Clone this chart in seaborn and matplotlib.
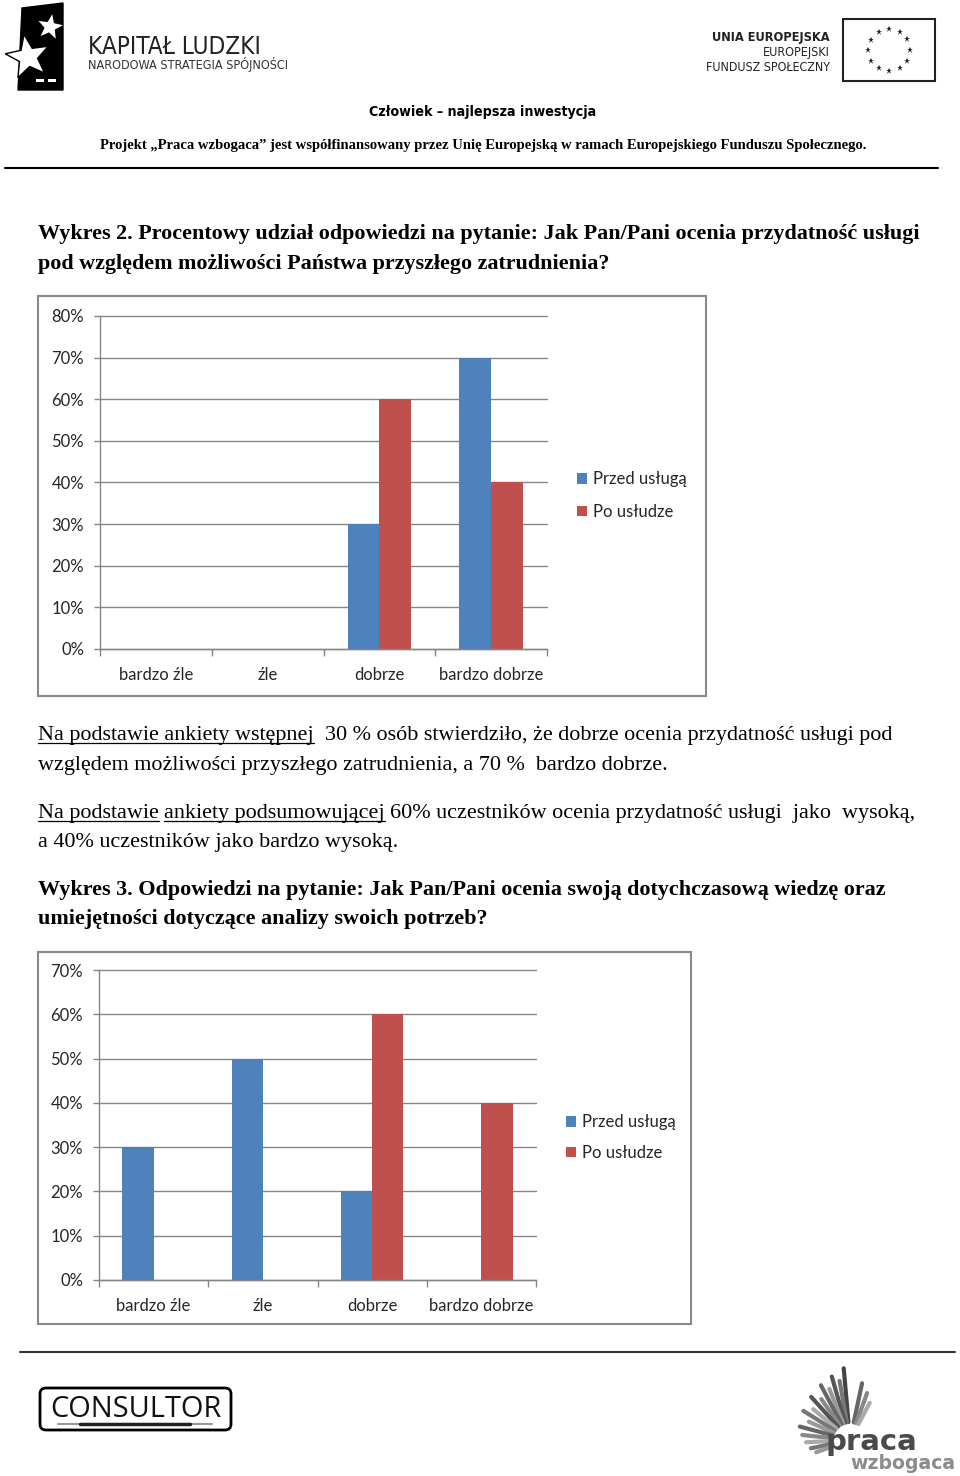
import matplotlib
matplotlib.use("Agg")
import numpy as np
import pandas as pd
import seaborn as sns
import matplotlib.pyplot as plt
from matplotlib.patches import Rectangle, FancyBboxPatch, Polygon
from matplotlib import font_manager as fm

# ---------------- data ----------------
categories = ["bardzo źle", "źle", "dobrze", "bardzo dobrze"]
series_names = ["Przed usługą", "Po usłudze"]
wykres2_przed = [0.00, 0.00, 0.30, 0.70]
wykres2_po = [0.00, 0.00, 0.60, 0.40]
wykres3_przed = [0.30, 0.50, 0.20, 0.00]
wykres3_po = [0.00, 0.00, 0.60, 0.40]
wykres2_yticks = [0.0, 0.1, 0.2, 0.3, 0.4, 0.5, 0.6, 0.7, 0.8]
wykres3_yticks = [0.0, 0.1, 0.2, 0.3, 0.4, 0.5, 0.6, 0.7]

BLUE = "#4F81BD"
RED = "#C0504D"
GRID = "#868686"
TXT = "#262626"
FS = 12

sns.set_theme(style="white")
plt.rcParams["font.family"] = ["Lato", "DejaVu Sans"]

W, H = 960, 1476
fig = plt.figure(figsize=(W / 100, H / 100), dpi=100)
fig.patch.set_facecolor("white")
page = fig.add_axes([0, 0, 1, 1], zorder=0)
page.set_xlim(0, W)
page.set_ylim(H, 0)
page.axis("off")
renderer = fig.canvas.get_renderer()

SERIF = ["Liberation Serif", "DejaVu Serif"]


def find_narrow(bold):
    cands = []
    for f in fm.fontManager.ttflist:
        nm = f.name.lower()
        narrow = ("narrow" in nm or "condensed" in nm
                  or str(f.stretch).lower() in ("condensed", "semi-condensed", "extra-condensed"))
        if not narrow or f.style != "normal":
            continue
        w = f.weight if isinstance(f.weight, (int, float)) else (700 if "bold" in str(f.weight) else 400)
        if bold != (w >= 600):
            continue
        cands.append(f.fname)
    cands.sort()
    return cands[0] if cands else None


NARROW_REG = find_narrow(False)
NARROW_BOLD = find_narrow(True)


def fprops(family, weight, size):
    if family == "NARROW":
        path = NARROW_BOLD if weight == "bold" else NARROW_REG
        if path is not None:
            return fm.FontProperties(fname=path, size=size)
        return fm.FontProperties(family=["Liberation Sans", "DejaVu Sans"],
                                 weight=weight, size=size)
    return fm.FontProperties(family=family, weight=weight, size=size)


def measure(s, size, family, weight="normal"):
    t = page.text(0, 0, s, fontproperties=fprops(family, weight, size))
    w = t.get_window_extent(renderer).width
    t.remove()
    return w


def put(x, y, s, size, family, weight="normal", ha="left", va="baseline",
        color="black", target=None):
    if target is not None:
        size = size * target / measure(s, size, family, weight)
    page.text(x, y, s, fontproperties=fprops(family, weight, size),
              ha=ha, va=va, color=color)
    return size


def run_line(x, y, parts, size, family, weight="normal", color="black"):
    sp = measure("n n", size, family, weight) - measure("nn", size, family, weight)
    cx = x
    for s, ul, nsp in parts:
        cx += nsp * sp
        w = measure(s, size, family, weight)
        page.text(cx, y, s, fontproperties=fprops(family, weight, size),
                  ha="left", va="baseline", color=color)
        if ul:
            page.plot([cx, cx + w], [y + 3, y + 3], color=color, lw=0.9)
        cx += w


def star_pts(cx, cy, r, inner=0.42, rot=-90):
    pts = []
    for i in range(10):
        rr = r if i % 2 == 0 else r * inner
        a = np.deg2rad(rot + i * 36)
        pts.append((cx + rr * np.cos(a), cy + rr * np.sin(a)))
    return pts


# ---------------- header ----------------
page.add_patch(Polygon([(22, 8), (63, 3), (63, 90), (18, 90)], closed=True,
                       fc="black", ec="black"))
page.add_patch(Polygon(star_pts(28, 57, 23, rot=-100), closed=True, fc="white",
                       ec="black", lw=1))
page.add_patch(Polygon(star_pts(50, 27, 13, rot=-80), closed=True, fc="white",
                       ec="none"))
page.add_patch(Rectangle((36, 79), 8, 3, fc="white", ec="none"))
page.add_patch(Rectangle((48, 79), 8, 3, fc="white", ec="none"))
put(88, 54, "KAPITAŁ LUDZKI", 16, "NARROW", color="#222222", target=174)
put(88, 69, "NARODOWA STRATEGIA SPÓJNOŚCI", 8, "NARROW", color="#333333", target=200)

put(830, 41, "UNIA EUROPEJSKA", 9, "NARROW", weight="bold", ha="right", color="#222222", target=118)
put(830, 56, "EUROPEJSKI", 9, "NARROW", ha="right", color="#222222", target=67)
put(830, 71, "FUNDUSZ SPOŁECZNY", 9, "NARROW", ha="right", color="#222222", target=124)
page.add_patch(Rectangle((843, 19), 92, 62, fill=False, ec="#222222", lw=1.5))
for k in range(12):
    a = np.deg2rad(k * 30)
    page.plot(889 + 21 * np.cos(a), 50 + 21 * np.sin(a), marker="*", ms=5,
              color="#222222", mew=0)

put(483, 116, "Człowiek – najlepsza inwestycja", 10, "NARROW", weight="bold",
    ha="center", target=225)
put(483, 149, "Projekt „Praca wzbogaca” jest współfinansowany przez Unię "
    "Europejską w ramach Europejskiego Funduszu Społecznego.", 10, SERIF,
    weight="bold", ha="center", target=771)
page.plot([5, 938], [168, 168], color="black", lw=1.5)

# ---------------- body text ----------------
tsize = put(38, 239, "Wykres 2. Procentowy udział odpowiedzi na pytanie: Jak "
            "Pan/Pani ocenia przydatność usługi", 14, SERIF, weight="bold",
            target=884)
put(38, 269, "pod względem możliwości Państwa przyszłego zatrudnienia?", tsize,
    SERIF, weight="bold")

psize = 14 * 631 / measure("względem możliwości przyszłego zatrudnienia, a 70 %  "
                           "bardzo dobrze.", 14, SERIF)
run_line(38, 740, [("Na podstawie ankiety wstępnej", True, 0),
                   ("30 % osób stwierdziło, że dobrze ocenia przydatność usługi pod",
                    False, 2)], psize, SERIF)
put(38, 770, "względem możliwości przyszłego zatrudnienia, a 70 %  bardzo dobrze.",
    psize, SERIF)
run_line(38, 818, [("Na podstawie", True, 0), ("ankiety podsumowującej", True, 1),
                   ("60% uczestników ocenia przydatność usługi  jako  wysoką,",
                    False, 1)], psize, SERIF)
put(38, 847, "a 40% uczestników jako bardzo wysoką.", psize, SERIF)

put(38, 895, "Wykres 3. Odpowiedzi na pytanie: Jak Pan/Pani ocenia swoją "
    "dotychczasową wiedzę oraz", tsize, SERIF, weight="bold")
put(38, 924, "umiejętności dotyczące analizy swoich potrzeb?", tsize, SERIF,
    weight="bold")


# ---------------- charts ----------------
def chart(rect_px, box_px, przed, po, yticks, leg_x, leg_y, spacing):
    l, t, r, b = rect_px
    bl, bt, br, bb = box_px
    page.add_patch(Rectangle((bl, bt), br - bl, bb - bt, fill=False,
                             ec="#8a8a8a", lw=1.5))
    ax = fig.add_axes([l / W, 1 - b / H, (r - l) / W, (b - t) / H], zorder=2)
    df = pd.DataFrame({
        "kategoria": categories * 2,
        "seria": [series_names[0]] * len(categories) + [series_names[1]] * len(categories),
        "udzial": list(przed) + list(po),
    })
    sns.barplot(data=df, x="kategoria", y="udzial", hue="seria",
                order=categories, hue_order=series_names,
                palette=[BLUE, RED], saturation=1, width=0.57,
                errorbar=None, linewidth=0, ax=ax)
    ax.set_xlim(-0.5, len(categories) - 0.5)
    ax.set_ylim(0, yticks[-1])
    ax.set_yticks(yticks)
    ax.set_yticklabels([f"{int(round(v * 100))}%" for v in yticks])
    ax.set_xlabel("")
    ax.set_ylabel("")
    ax.set_axisbelow(True)
    ax.yaxis.grid(True, color=GRID, lw=1)
    ax.xaxis.grid(False)
    for gl in ax.get_ygridlines():
        gl.set_clip_on(False)
    for s in ["top", "right"]:
        ax.spines[s].set_visible(False)
    for s in ["left", "bottom"]:
        ax.spines[s].set_color(GRID)
        ax.spines[s].set_linewidth(1)
    ax.set_xticks([i - 0.5 for i in range(len(categories) + 1)], minor=True)
    ax.tick_params(axis="y", which="major", left=True, length=4.5, width=1,
                   color=GRID, direction="out", pad=7, labelsize=FS,
                   labelcolor=TXT)
    ax.tick_params(axis="x", which="major", bottom=True, length=0, pad=13,
                   labelsize=FS, labelcolor=TXT)
    ax.tick_params(axis="x", which="minor", bottom=True, length=5, width=1,
                   color=GRID, direction="out")
    leg = ax.get_legend()
    handles = leg.legend_handles
    labels = [tx.get_text() for tx in leg.get_texts()]
    leg.remove()
    ax.legend(handles, labels, loc="center left",
              bbox_to_anchor=(leg_x / W, 1 - leg_y / H),
              bbox_transform=fig.transFigure, frameon=False,
              fontsize=FS, handlelength=0.6, handleheight=0.6,
              handletextpad=0.35, labelspacing=spacing, borderpad=0,
              borderaxespad=0, labelcolor=TXT)
    return ax


chart((100, 316, 547, 649), (38, 296, 706, 696), wykres2_przed, wykres2_po,
      wykres2_yticks, 577, 495.5, 1.0)
chart((99, 970, 536, 1280), (38, 952, 691, 1324), wykres3_przed, wykres3_po,
      wykres3_yticks, 566, 1137.5, 0.88)

# ---------------- footer ----------------
page.plot([20, 955], [1352, 1352], color="#333333", lw=1.5)
page.add_patch(FancyBboxPatch((40, 1388), 191, 42,
                              boxstyle="round,pad=0,rounding_size=6",
                              fill=False, ec="black", lw=2))
put(136, 1417, "CONSULTOR", 20, ["Open Sans", "DejaVu Sans"], ha="center",
    color="#111111", target=171)
page.plot([58, 212], [1424, 1424], color="#999999", lw=1.5, solid_capstyle="round")
page.plot([80, 190], [1424, 1424], color="#222222", lw=2.5, solid_capstyle="round")

ray_angles = [95, 100, 106, 112, 118, 125, 132, 140, 148, 156, 165, 174, 183, 192, 200, 78, 70, 62]
ray_lengths = [72, 60, 66, 55, 62, 50, 58, 48, 55, 45, 52, 48, 44, 40, 36, 58, 50, 42]
ray_greys = ["#444444", "#777777", "#555555", "#999999", "#666666", "#888888",
             "#555555", "#aaaaaa", "#777777", "#999999", "#666666", "#888888",
             "#aaaaaa", "#777777", "#999999", "#666666", "#888888", "#aaaaaa"]
cx0, cy0 = 850, 1440
for ang, ln, gc in zip(ray_angles, ray_lengths, ray_greys):
    a = np.deg2rad(ang)
    r0 = 18
    page.plot([cx0 + r0 * np.cos(a), cx0 + ln * np.cos(a)],
              [cy0 - r0 * np.sin(a), cy0 - ln * np.sin(a)], color=gc, lw=3)
put(826, 1450, "praca", 20, ["DejaVu Sans"], weight="bold", color="#4a4a4a",
    target=92)
put(850, 1469, "wzbogaca", 14, ["DejaVu Sans"], weight="bold", color="#8c8c8c",
    target=105)

fig.savefig("out.png", dpi=100, facecolor="white")
